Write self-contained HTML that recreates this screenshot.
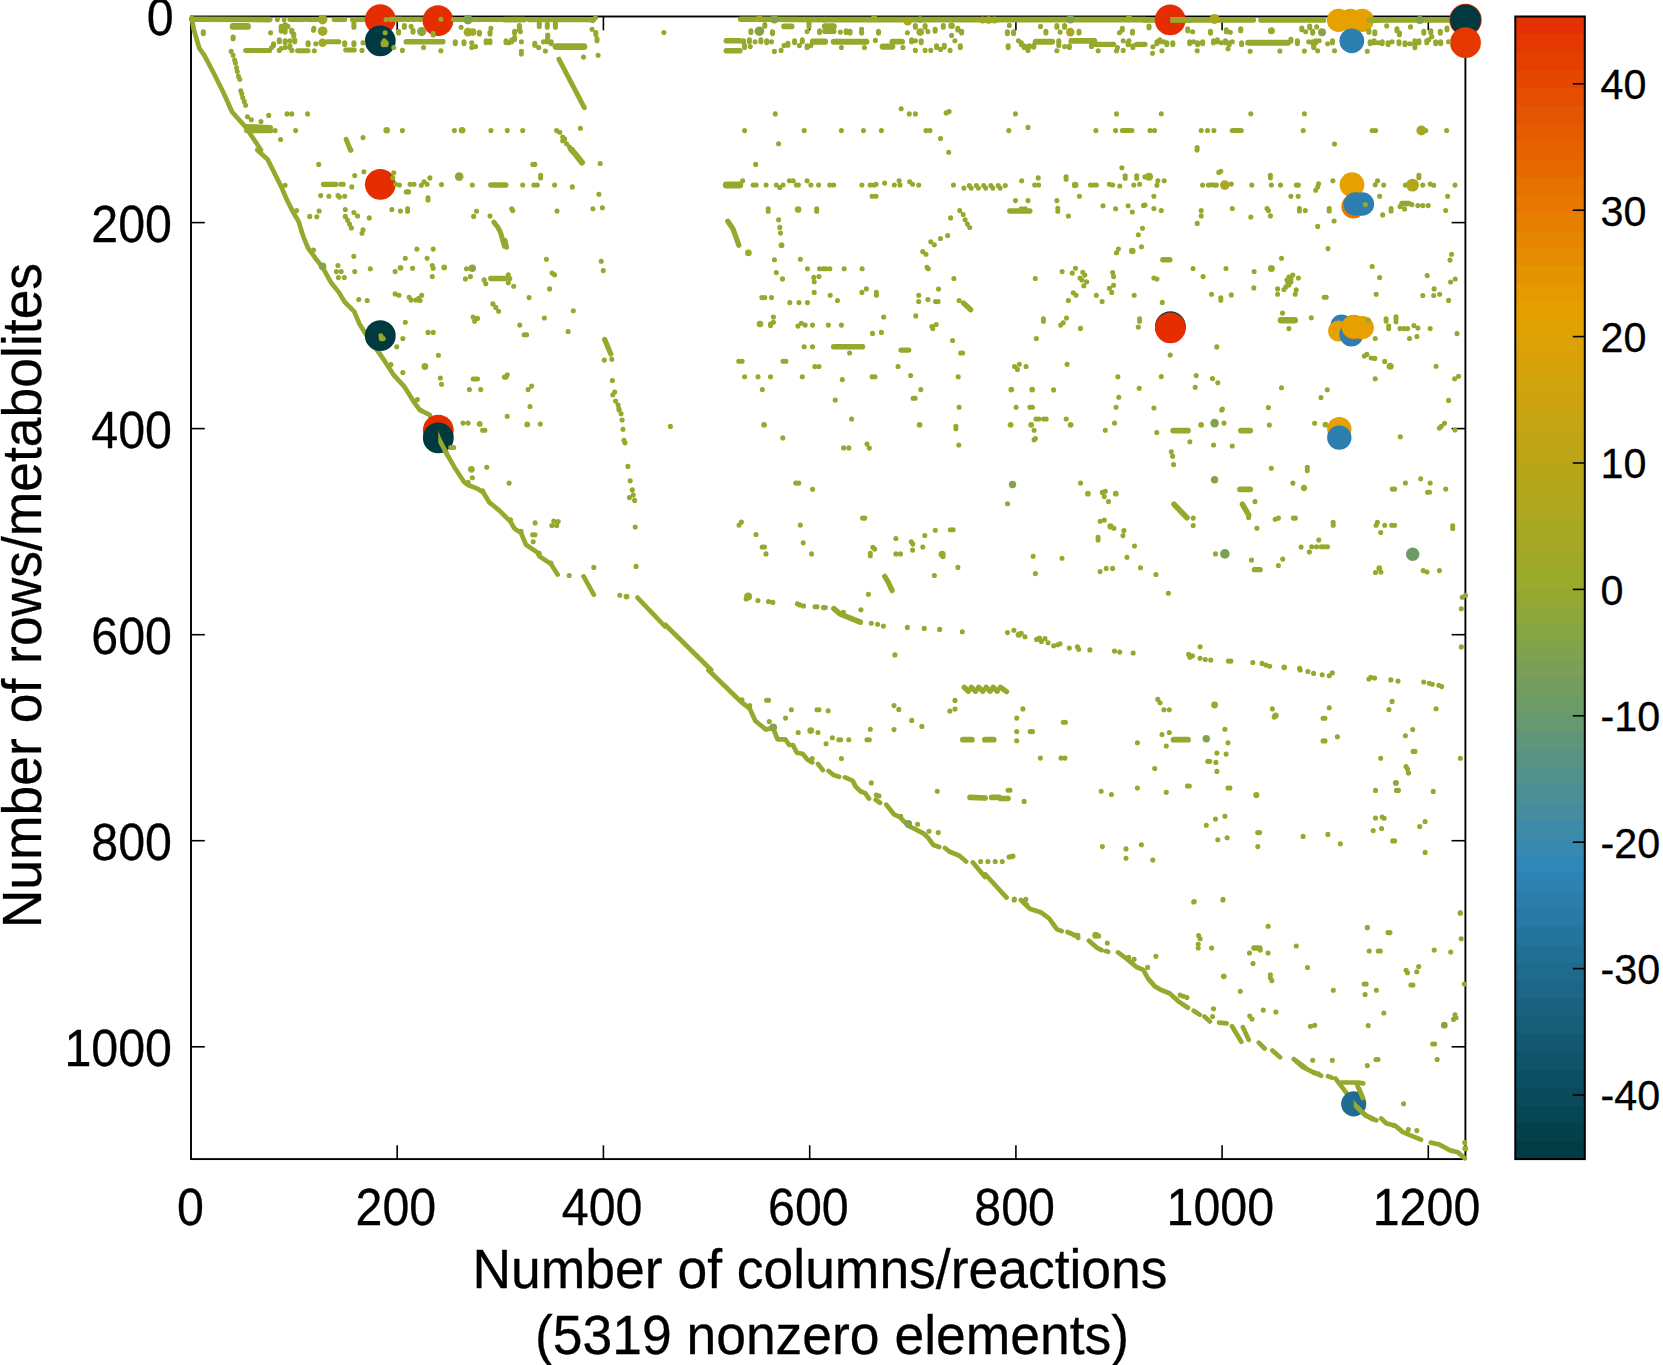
<!DOCTYPE html>
<html><head><meta charset="utf-8"><title>spy plot</title>
<style>html,body{margin:0;padding:0;background:#fff}svg{display:block}text{font-family:"Liberation Sans",Arial,Helvetica,sans-serif;fill:#000;stroke:#000;stroke-width:0.3px}</style></head><body>
<svg width="1663" height="1365" viewBox="0 0 1663 1365">
<rect width="1663" height="1365" fill="#fff"/>
<g shape-rendering="crispEdges">
<rect x="1515.3" y="16.50" width="69.5" height="18.35" fill="#e53100"/>
<rect x="1515.3" y="34.35" width="69.5" height="18.35" fill="#e53800"/>
<rect x="1515.3" y="52.21" width="69.5" height="18.35" fill="#e53f00"/>
<rect x="1515.3" y="70.06" width="69.5" height="18.35" fill="#e54600"/>
<rect x="1515.3" y="87.91" width="69.5" height="18.35" fill="#e54d00"/>
<rect x="1515.3" y="105.77" width="69.5" height="18.35" fill="#e55400"/>
<rect x="1515.3" y="123.62" width="69.5" height="18.35" fill="#e55b00"/>
<rect x="1515.3" y="141.47" width="69.5" height="18.35" fill="#e56200"/>
<rect x="1515.3" y="159.32" width="69.5" height="18.35" fill="#e66900"/>
<rect x="1515.3" y="177.18" width="69.5" height="18.35" fill="#e67000"/>
<rect x="1515.3" y="195.03" width="69.5" height="18.35" fill="#e67700"/>
<rect x="1515.3" y="212.88" width="69.5" height="18.35" fill="#e67e00"/>
<rect x="1515.3" y="230.74" width="69.5" height="18.35" fill="#e68500"/>
<rect x="1515.3" y="248.59" width="69.5" height="18.35" fill="#e68c00"/>
<rect x="1515.3" y="266.44" width="69.5" height="18.35" fill="#e69300"/>
<rect x="1515.3" y="284.30" width="69.5" height="18.35" fill="#e69a00"/>
<rect x="1515.3" y="302.15" width="69.5" height="18.35" fill="#e5a000"/>
<rect x="1515.3" y="320.00" width="69.5" height="18.35" fill="#e0a103"/>
<rect x="1515.3" y="337.86" width="69.5" height="18.35" fill="#dba106"/>
<rect x="1515.3" y="355.71" width="69.5" height="18.35" fill="#d6a209"/>
<rect x="1515.3" y="373.56" width="69.5" height="18.35" fill="#d1a30c"/>
<rect x="1515.3" y="391.42" width="69.5" height="18.35" fill="#cca30e"/>
<rect x="1515.3" y="409.27" width="69.5" height="18.35" fill="#c7a411"/>
<rect x="1515.3" y="427.12" width="69.5" height="18.35" fill="#c2a514"/>
<rect x="1515.3" y="444.97" width="69.5" height="18.35" fill="#bda517"/>
<rect x="1515.3" y="462.83" width="69.5" height="18.35" fill="#b8a61a"/>
<rect x="1515.3" y="480.68" width="69.5" height="18.35" fill="#b3a61d"/>
<rect x="1515.3" y="498.53" width="69.5" height="18.35" fill="#aea71f"/>
<rect x="1515.3" y="516.39" width="69.5" height="18.35" fill="#a9a822"/>
<rect x="1515.3" y="534.24" width="69.5" height="18.35" fill="#a4a825"/>
<rect x="1515.3" y="552.09" width="69.5" height="18.35" fill="#9fa928"/>
<rect x="1515.3" y="569.95" width="69.5" height="18.35" fill="#9aaa2b"/>
<rect x="1515.3" y="587.80" width="69.5" height="18.35" fill="#95a931"/>
<rect x="1515.3" y="605.65" width="69.5" height="18.35" fill="#8ea73a"/>
<rect x="1515.3" y="623.51" width="69.5" height="18.35" fill="#87a443"/>
<rect x="1515.3" y="641.36" width="69.5" height="18.35" fill="#81a24c"/>
<rect x="1515.3" y="659.21" width="69.5" height="18.35" fill="#7aa055"/>
<rect x="1515.3" y="677.07" width="69.5" height="18.35" fill="#739d5e"/>
<rect x="1515.3" y="694.92" width="69.5" height="18.35" fill="#6d9b67"/>
<rect x="1515.3" y="712.77" width="69.5" height="18.35" fill="#669970"/>
<rect x="1515.3" y="730.62" width="69.5" height="18.35" fill="#5f9679"/>
<rect x="1515.3" y="748.48" width="69.5" height="18.35" fill="#599482"/>
<rect x="1515.3" y="766.33" width="69.5" height="18.35" fill="#52928b"/>
<rect x="1515.3" y="784.18" width="69.5" height="18.35" fill="#4c9094"/>
<rect x="1515.3" y="802.04" width="69.5" height="18.35" fill="#458d9d"/>
<rect x="1515.3" y="819.89" width="69.5" height="18.35" fill="#3e8ba7"/>
<rect x="1515.3" y="837.74" width="69.5" height="18.35" fill="#3889b0"/>
<rect x="1515.3" y="855.60" width="69.5" height="18.35" fill="#3186b9"/>
<rect x="1515.3" y="873.45" width="69.5" height="18.35" fill="#2d82b4"/>
<rect x="1515.3" y="891.30" width="69.5" height="18.35" fill="#2b7dac"/>
<rect x="1515.3" y="909.16" width="69.5" height="18.35" fill="#2879a5"/>
<rect x="1515.3" y="927.01" width="69.5" height="18.35" fill="#25749d"/>
<rect x="1515.3" y="944.86" width="69.5" height="18.35" fill="#226f96"/>
<rect x="1515.3" y="962.72" width="69.5" height="18.35" fill="#1f6b8e"/>
<rect x="1515.3" y="980.57" width="69.5" height="18.35" fill="#1c6687"/>
<rect x="1515.3" y="998.42" width="69.5" height="18.35" fill="#19617f"/>
<rect x="1515.3" y="1016.27" width="69.5" height="18.35" fill="#165d78"/>
<rect x="1515.3" y="1034.13" width="69.5" height="18.35" fill="#135870"/>
<rect x="1515.3" y="1051.98" width="69.5" height="18.35" fill="#105469"/>
<rect x="1515.3" y="1069.83" width="69.5" height="18.35" fill="#0d4f62"/>
<rect x="1515.3" y="1087.69" width="69.5" height="18.35" fill="#0a4a5a"/>
<rect x="1515.3" y="1105.54" width="69.5" height="18.35" fill="#074653"/>
<rect x="1515.3" y="1123.39" width="69.5" height="18.35" fill="#04414b"/>
<rect x="1515.3" y="1141.25" width="69.5" height="18.35" fill="#013c44"/>
</g>
<rect x="1515.3" y="16.5" width="69.5" height="1142.6" fill="none" stroke="#000" stroke-width="2"/>
<line x1="1572.8" x2="1584.8" y1="1095.0" y2="1095.0" stroke="#000" stroke-width="1.6"/>
<text transform="translate(1600.5,1110.4) scale(0.96,1)" font-size="43">-40</text>
<line x1="1572.8" x2="1584.8" y1="968.6" y2="968.6" stroke="#000" stroke-width="1.6"/>
<text transform="translate(1600.5,984.0) scale(0.96,1)" font-size="43">-30</text>
<line x1="1572.8" x2="1584.8" y1="842.2" y2="842.2" stroke="#000" stroke-width="1.6"/>
<text transform="translate(1600.5,857.6) scale(0.96,1)" font-size="43">-20</text>
<line x1="1572.8" x2="1584.8" y1="715.8" y2="715.8" stroke="#000" stroke-width="1.6"/>
<text transform="translate(1600.5,731.2) scale(0.96,1)" font-size="43">-10</text>
<line x1="1572.8" x2="1584.8" y1="589.4" y2="589.4" stroke="#000" stroke-width="1.6"/>
<text transform="translate(1600.5,604.8) scale(0.96,1)" font-size="43">0</text>
<line x1="1572.8" x2="1584.8" y1="463.0" y2="463.0" stroke="#000" stroke-width="1.6"/>
<text transform="translate(1600.5,478.4) scale(0.96,1)" font-size="43">10</text>
<line x1="1572.8" x2="1584.8" y1="336.6" y2="336.6" stroke="#000" stroke-width="1.6"/>
<text transform="translate(1600.5,352.0) scale(0.96,1)" font-size="43">20</text>
<line x1="1572.8" x2="1584.8" y1="210.2" y2="210.2" stroke="#000" stroke-width="1.6"/>
<text transform="translate(1600.5,225.6) scale(0.96,1)" font-size="43">30</text>
<line x1="1572.8" x2="1584.8" y1="83.8" y2="83.8" stroke="#000" stroke-width="1.6"/>
<text transform="translate(1600.5,99.2) scale(0.96,1)" font-size="43">40</text>
<rect x="191.0" y="16.5" width="1274.4" height="1142.6" fill="none" stroke="#000" stroke-width="1.9"/>
<text transform="translate(190.5,1224.6) scale(0.948,1)" font-size="51" text-anchor="middle">0</text>
<line x1="397.2" x2="397.2" y1="1159.1" y2="1145.3" stroke="#000" stroke-width="1.6"/>
<line x1="397.2" x2="397.2" y1="16.5" y2="30.3" stroke="#000" stroke-width="1.6"/>
<text transform="translate(395.9,1224.6) scale(0.948,1)" font-size="51" text-anchor="middle">200</text>
<line x1="603.4" x2="603.4" y1="1159.1" y2="1145.3" stroke="#000" stroke-width="1.6"/>
<line x1="603.4" x2="603.4" y1="16.5" y2="30.3" stroke="#000" stroke-width="1.6"/>
<text transform="translate(602.1,1224.6) scale(0.948,1)" font-size="51" text-anchor="middle">400</text>
<line x1="809.7" x2="809.7" y1="1159.1" y2="1145.3" stroke="#000" stroke-width="1.6"/>
<line x1="809.7" x2="809.7" y1="16.5" y2="30.3" stroke="#000" stroke-width="1.6"/>
<text transform="translate(808.4,1224.6) scale(0.948,1)" font-size="51" text-anchor="middle">600</text>
<line x1="1015.9" x2="1015.9" y1="1159.1" y2="1145.3" stroke="#000" stroke-width="1.6"/>
<line x1="1015.9" x2="1015.9" y1="16.5" y2="30.3" stroke="#000" stroke-width="1.6"/>
<text transform="translate(1014.6,1224.6) scale(0.948,1)" font-size="51" text-anchor="middle">800</text>
<line x1="1222.1" x2="1222.1" y1="1159.1" y2="1145.3" stroke="#000" stroke-width="1.6"/>
<line x1="1222.1" x2="1222.1" y1="16.5" y2="30.3" stroke="#000" stroke-width="1.6"/>
<text transform="translate(1220.3,1224.6) scale(0.948,1)" font-size="51" text-anchor="middle">1000</text>
<line x1="1428.3" x2="1428.3" y1="1159.1" y2="1145.3" stroke="#000" stroke-width="1.6"/>
<line x1="1428.3" x2="1428.3" y1="16.5" y2="30.3" stroke="#000" stroke-width="1.6"/>
<text transform="translate(1426.5,1224.6) scale(0.948,1)" font-size="51" text-anchor="middle">1200</text>
<text transform="translate(173.7,35.3) scale(0.948,1)" font-size="51" text-anchor="end">0</text>
<line x1="191.0" x2="204.8" y1="222.6" y2="222.6" stroke="#000" stroke-width="1.6"/>
<line x1="1465.4" x2="1451.6000000000001" y1="222.6" y2="222.6" stroke="#000" stroke-width="1.6"/>
<text transform="translate(172,242.0) scale(0.948,1)" font-size="51" text-anchor="end">200</text>
<line x1="191.0" x2="204.8" y1="428.6" y2="428.6" stroke="#000" stroke-width="1.6"/>
<line x1="1465.4" x2="1451.6000000000001" y1="428.6" y2="428.6" stroke="#000" stroke-width="1.6"/>
<text transform="translate(172,448.0) scale(0.948,1)" font-size="51" text-anchor="end">400</text>
<line x1="191.0" x2="204.8" y1="634.7" y2="634.7" stroke="#000" stroke-width="1.6"/>
<line x1="1465.4" x2="1451.6000000000001" y1="634.7" y2="634.7" stroke="#000" stroke-width="1.6"/>
<text transform="translate(172,654.1) scale(0.948,1)" font-size="51" text-anchor="end">600</text>
<line x1="191.0" x2="204.8" y1="840.7" y2="840.7" stroke="#000" stroke-width="1.6"/>
<line x1="1465.4" x2="1451.6000000000001" y1="840.7" y2="840.7" stroke="#000" stroke-width="1.6"/>
<text transform="translate(172,860.1) scale(0.948,1)" font-size="51" text-anchor="end">800</text>
<line x1="191.0" x2="204.8" y1="1046.8" y2="1046.8" stroke="#000" stroke-width="1.6"/>
<line x1="1465.4" x2="1451.6000000000001" y1="1046.8" y2="1046.8" stroke="#000" stroke-width="1.6"/>
<text transform="translate(172,1066.2) scale(0.948,1)" font-size="51" text-anchor="end">1000</text>
<g id="spy">
<defs><clipPath id="rh"><rect x="380.3" y="0.2" width="21.4" height="38.8"/><rect x="380.3" y="21.4" width="21.4" height="38.8"/><rect x="438" y="1.2" width="21.4" height="38.8"/><rect x="1170.2" y="0.5" width="21.4" height="38.8"/><rect x="1338.5" y="4.7" width="17.6" height="31.2"/><rect x="1350.4" y="4.7" width="17.6" height="31.2"/><rect x="1362.3" y="4.7" width="17.6" height="31.2"/><rect x="1351.8" y="24.4" width="18.4" height="32.8"/><rect x="1465.5" y="-0.3" width="22.2" height="40.4"/><rect x="1465.5" y="0.5" width="21.4" height="38.8"/><rect x="1465.5" y="23.3" width="21.4" height="38.8"/><rect x="380.3" y="164.9" width="21.4" height="38.8"/><rect x="380.3" y="316.3" width="21.4" height="38.8"/><rect x="1170.4" y="307.2" width="21.4" height="38.8"/><rect x="1170.4" y="308.4" width="21.4" height="38.8"/><rect x="1352" y="168.3" width="18.4" height="32.8"/><rect x="1353.4" y="190.6" width="18" height="32"/><rect x="1355.4" y="188.2" width="17.8" height="31.6"/><rect x="1362.3" y="188.2" width="17.8" height="31.6"/><rect x="1341.5" y="310.6" width="17" height="30"/><rect x="1338.5" y="316.5" width="16.5" height="29"/><rect x="1351.4" y="318.6" width="18" height="32"/><rect x="1353.8" y="310.8" width="18.2" height="32.4"/><rect x="1353.4" y="311" width="17.6" height="31.2"/><rect x="1362.3" y="312" width="17.6" height="31.2"/><rect x="438.3" y="410.8" width="21.4" height="38.8"/><rect x="438.3" y="418.5" width="21.4" height="38.8"/><rect x="1339.3" y="412.9" width="18.2" height="32.4"/><rect x="1339.3" y="421.4" width="18.2" height="32.4"/><rect x="1353.7" y="1087.2" width="18.6" height="33.2"/></clipPath></defs>
<g id="lines">
<path d="M191.7 17.7 L193.7 29.2 L199.4 48.5 L204.2 55.2 L213.9 73.5 L223.5 92.7 L232.1 112 L240.8 121.6 L246.6 128.3 L252.3 137 L261 150.1 L257.2 150 L267.7 159.6 L275.4 175 L281.2 186.6 L287 200 L292.8 211.6 L298.5 221.2 L303.3 236.6 L308.1 248.1 L315.8 258.7 L322.6 267.4 L331.2 282.8 L338.9 292.4 L344.7 302 L354.3 311.6 L359.1 323.2 L364.9 332.8 L374.5 346.3 L385.1 361.7 L393.8 375.1 L404.4 386.7 L414 402.1 L419.8 410 L420 410 L429.7 414.8 L438.9 438.9 L447 454.3 L454.7 467.7 L464.3 482.2 L468.1 485 L477.8 488.9 L483.5 492.7 L489.3 502.4 L498.9 510.1 L510.5 521.6 L514.3 528.3 L521.1 533.1 L525.9 544.7 L537.4 552.4 L539.3 556.2 L550.9 563.9 L557.6 574.5 M583.6 576.4 L593.8 594.7 M637.5 597.6 L665 626.5 L665 624.5 L711.2 670 L708.3 670 L742 702.7 L749.7 708.5 L755.4 721 L766 729.6 L772.8 727.7 L777.6 739.3 L785.3 739.3 L789.1 745 L793 745 L796.8 752.7 L802.6 753.7 L807.4 759.5 L812.2 762.4 M818 763.9 L822.8 770.1 M828.6 771 L833.4 774.9 L839.1 776.8 M844.9 777.4 L852.6 780.6 L855.5 786.4 L860.3 791.2 L865.1 793.1 L869 798.5 M875.7 799.9 L880.1 802.8 M886.3 804.7 L894 814.3 L899.8 817.2 L908.4 825.9 L916.1 829.7 L923.8 833.6 L928.6 838.4 L933.4 845.1 L939.2 847 M945 848 L949.8 851.8 L959.4 855.7 L966.1 861.5 M972.9 862.4 L985 876.9 L985 874 L1006.6 897.6 M1020.9 900 L1029.7 908.7 L1041.3 912.6 L1049.1 918.4 L1056.8 929.1 L1061.7 931.1 M1067.5 932 L1076.3 935.9 L1078.2 937.9 M1088.9 940.8 L1096.7 947.6 L1101.5 950.1 M1105.8 951.1 L1108.1 951.8 M1118 952.4 L1124.8 957.3 L1130.6 962.1 L1136.5 967 L1143.3 969.9 L1148.1 978.6 L1154.9 986.4 L1161.7 990.3 L1169.5 993.2 L1179.2 1001.9 L1187.9 1007.8 M1193.7 1010.7 L1199.6 1014.6 M1204.4 1016.5 L1209.9 1021.4 M1219 1022.7 L1226.7 1023.3 M1232 1026.2 L1241.3 1041.7 M1242.9 1027.2 L1248.7 1039.8 M1258.8 1042.7 L1264.6 1048.5 M1272.4 1050.5 L1280.1 1057.3 M1293.7 1059.2 L1305 1067.4 L1293.9 1059.2 L1302.6 1066.9 L1312.3 1071.8 L1321.1 1075.7 M1327.9 1076.2 L1331.8 1077.6 M1335.6 1078.6 L1347.3 1094.1 L1353.7 1103.8 L1365.7 1115.5 L1376.4 1120.3 M1341.5 1082.5 L1351.2 1082.5 L1358 1082.5 L1363.2 1083.4 M1357 1084.4 L1362.8 1098 M1381.2 1118.4 L1386.1 1123.2 L1395.8 1126.1 L1402.6 1131.9 L1409.4 1134.9 L1421 1139.7 M1430.7 1142.6 L1438.5 1144.2 L1450.2 1150.4 L1457.9 1152.3 L1464.7 1158.2" fill="none" stroke="#95a92d" stroke-width="4.7" stroke-linecap="round" stroke-linejoin="round"/>
<path d="M289.9 19.6 L304.3 19.6 M308.1 19.6 L319.7 19.6 M334.1 19.6 L344.7 19.6 M352.4 19.6 L364.9 19.6 M245.6 50.4 L269.7 50.4 M297.6 50.8 L308.1 50.8 M345.7 50 L354.3 50 M327.4 41.7 L338.9 41.7 M245.6 126.4 L270.6 127.4 M246.6 130.8 L270.6 130.8 M346.2 139.3 L350.5 150.1 M390.9 19.2 L423.6 19.2 M453.4 19.6 L505 19.6 M558.9 59.1 L584.3 107.7 M1122.3 130.6 L1131.9 130.6 M493.8 222.2 L497.7 227 L500.6 232.7 L502.5 239.5 L504.4 246.2 M473.1 379 L477.5 379 M505 240.4 L506.5 247.2" fill="none" stroke="#95a92d" stroke-width="5.0" stroke-linecap="round" stroke-linejoin="round"/>
<path d="M1232.3 130.5 L1241.2 130.5" fill="none" stroke="#95a92d" stroke-width="5.2" stroke-linecap="round" stroke-linejoin="round"/>
<path d="M529.1 19.6 L593.5 19.6 M1094.4 44.3 L1113.6 44.3 M1136.7 44.3 L1145 44.3 M323.5 184.3 L336 184.3 M727.8 221.2 L733 228.9 L738.8 245.2 M604.7 339.5 L610.8 354 M1009.7 211 L1029.9 211 M963.5 303 L970.7 309.7 M901 350.1 L908.7 350.1 M884.7 576.4 L888.2 582.2 L892.1 590.5 M1254.4 569.7 L1260.2 569.7 M964.2 687.3 L968.4 691.2 M971.3 687.3 L975.6 691.2 M978.6 687.3 L982.9 691.2 M986 687.3 L990.2 691.2 M993.1 687.3 L997.3 691.2 M1000.4 687.3 L1006.6 691.6 M1009.1 857 L1012.9 856.3" fill="none" stroke="#95a92d" stroke-width="5.3" stroke-linecap="round" stroke-linejoin="round"/>
<path d="M1253.9 948 L1259.8 948" fill="none" stroke="#95a92d" stroke-width="5.4" stroke-linecap="round" stroke-linejoin="round"/>
<path d="M1402 203.6 L1408.9 203.6 M1162.9 259.7 L1169.8 259.7" fill="none" stroke="#95a92d" stroke-width="5.5" stroke-linecap="round" stroke-linejoin="round"/>
<path d="M191.7 19.2 L269.7 19.6 M406.3 41.7 L442.8 41.7 M505 19.6 L524.2 19.6 M740.7 19.2 L825 19.6 M784 26.4 L791.7 26.4 M726.3 40.8 L739.8 40.8 M726.3 50.8 L739.8 50.8 M825 31.2 L833.7 31.2 M490.9 185 L505 185 M490.9 278.5 L505 278.5 M833.7 346.8 L862.5 346.8 M833.9 608.6 L840.1 614 L860.3 622.2 M1174 504.3 L1187 517.8 M1242.5 504.3 L1248.6 514.9 M970 797.4 L985 798 M991.7 797.4 L999.4 797.4 L1000.4 798.5 L1008.1 798.5" fill="none" stroke="#95a92d" stroke-width="5.6" stroke-linecap="round" stroke-linejoin="round"/>
<path d="M1145 19.9 L1253.2 19.9 M1261.1 19.9 L1323.6 19.9 M1369.3 19.9 L1454.6 19.9" fill="none" stroke="#95a92d" stroke-width="5.7" stroke-linecap="round" stroke-linejoin="round"/>
<path d="M825 19.6 L1145 19.6 M892.3 41.7 L902 41.7 M1071.3 40.8 L1094.4 40.8 M1173.2 430.6 L1188 430.6 M1240.9 430.6 L1250.2 430.6 M1240 489.3 L1250.2 489.3 M962.9 739.7 L971.9 739.7 M985 739.7 L993.7 739.7 M1173.6 739.7 L1188 739.7" fill="none" stroke="#95a92d" stroke-width="5.8" stroke-linecap="round" stroke-linejoin="round"/>
<path d="M833.7 41.7 L866.4 41.7 M1035.7 41.7 L1052.1 41.7 M1248.2 42.7 L1287.9 42.7 M571.4 150 L575.2 153.8 L578.1 157.7 L582 162.5" fill="none" stroke="#95a92d" stroke-width="6.0" stroke-linecap="round" stroke-linejoin="round"/>
<path d="M812.9 41.7 L825 41.7 M825 26.4 L833.7 26.4 M882.7 46.6 L892.3 46.6" fill="none" stroke="#95a92d" stroke-width="6.2" stroke-linecap="round" stroke-linejoin="round"/>
<path d="M1280.9 320.3 L1294.8 320.3" fill="none" stroke="#95a92d" stroke-width="6.4" stroke-linecap="round" stroke-linejoin="round"/>
<path d="M233.1 26.4 L247.5 26.4 M556 46.6 L583.9 46.6 M726.3 185 L739.8 185" fill="none" stroke="#95a92d" stroke-width="6.9" stroke-linecap="round" stroke-linejoin="round"/>
</g>
<circle cx="380.3" cy="19.6" r="15.4" fill="#e52d00"/>
<circle cx="380.3" cy="40.8" r="15.4" fill="#003a40"/>
<circle cx="438" cy="20.6" r="15.4" fill="#e52d00"/>
<circle cx="1170.2" cy="19.9" r="15.4" fill="#e52d00"/>
<circle cx="1338.5" cy="20.3" r="11.6" fill="#e6a000"/>
<circle cx="1350.4" cy="20.3" r="11.6" fill="#e6a000"/>
<circle cx="1362.3" cy="20.3" r="11.6" fill="#e6a000"/>
<circle cx="1351.8" cy="40.8" r="12.4" fill="#2c7faf"/>
<circle cx="1465.5" cy="19.9" r="16.2" fill="#e52d00"/>
<circle cx="1465.5" cy="19.9" r="15.4" fill="#003a40"/>
<circle cx="1465.5" cy="42.7" r="15.4" fill="#e53700"/>
<circle cx="380.3" cy="184.3" r="15.4" fill="#e52d00"/>
<circle cx="380.3" cy="335.7" r="15.4" fill="#003a40"/>
<circle cx="1170.4" cy="326.6" r="15.4" fill="#003a40"/>
<circle cx="1170.4" cy="327.8" r="15.4" fill="#e52d00"/>
<circle cx="1352" cy="184.7" r="12.4" fill="#e6a000"/>
<circle cx="1353.4" cy="206.6" r="12.0" fill="#e67800"/>
<circle cx="1355.4" cy="204" r="11.8" fill="#2c7faf"/>
<circle cx="1362.3" cy="204" r="11.8" fill="#2c7faf"/>
<circle cx="1341.5" cy="325.6" r="11.0" fill="#2c7faf"/>
<circle cx="1338.5" cy="331" r="10.5" fill="#e6a000"/>
<circle cx="1351.4" cy="334.6" r="12" fill="#2c7faf"/>
<circle cx="1353.8" cy="327" r="12.2" fill="#e68200"/>
<circle cx="1353.4" cy="326.6" r="11.6" fill="#e6a000"/>
<circle cx="1362.3" cy="327.6" r="11.6" fill="#e6a000"/>
<circle cx="438.3" cy="430.2" r="15.4" fill="#e52d00"/>
<circle cx="438.3" cy="437.9" r="15.4" fill="#003a40"/>
<circle cx="1339.3" cy="429.1" r="12.2" fill="#e6a000"/>
<circle cx="1339.3" cy="437.6" r="12.2" fill="#2c7faf"/>
<circle cx="1353.7" cy="1103.8" r="12.6" fill="#1f6c90"/>
<use href="#lines" clip-path="url(#rh)"/>
<path d="M203.3 31.8v1.8M233.1 37v1.8M231.2 51.4h0M233.1 55.2h0M234.6 60h0M235.4 62.9h0M236.6 67.7h0M237.3 71.6h0M238.5 76.4h0M239.8 79.3h0M240.8 90.8h0M241.8 93.7h0M242.7 97.6h0M244.3 101.4h0M245.6 105.2h0M247.5 116.8h0M251.4 119.7h0M261 121.6h0M268.7 115.4h0M287 113.9h0M291.8 113.9h0M307.6 113.9h0M275.1 130.6h0M295.6 130.6h0M402.4 130.6h0M454.4 130.6h0M490.9 130.6h0M280.6 139.5h0M363 137.6h0M279.3 50.4h0M291.8 50.4h0M314.3 50.8h0M362 50.4h0M393.8 47.5h0M402.4 50.4h0M423.6 47.5h0M440.9 50.8h0M471.7 47.5h0M475.6 46.6h0M279.3 39.9v1.8M285.1 40.8v1.8M289.9 40.8h0M294.7 39.9v1.8M308.1 42.8v1.8M315.8 43.7h0M344.7 42.8v1.8M353.9 42.8v1.8M363 42.7h0M455.3 41.8v1.8M464 41.8v1.8M471.7 42.7h0M486.1 40.8v1.8M490 40.8v1.8M270.6 32.7h0M281.2 29.3v1.8M285.1 30.3v1.8M287.9 26.4h0M291.8 30.3v1.8M293.7 34.1v1.8M313.5 30.2h0M353.9 25.5v1.8M353.9 22.6v1.8M385.1 32.7h0M398.6 31.2v1.8M404.4 25.5v1.8M411.1 26.4h0M413 30.3v1.8M433.2 33.2v1.8M461.1 27.3h0M479.4 32.2v1.8M490 32.2v1.8M490.9 28.3h0M285.1 24.5v1.8M281.2 26.4v1.8M313.9 28.3h0M289.9 45.7v1.8M285.1 47.5h0M281.2 48.5h0M273.5 43.7v1.8M271.6 47.5h0M384.2 40.8h0M386.1 42.8v1.8M383.2 42.8v1.8M440.9 19.2h0M386.1 19.6h0M277.4 19.6h0M284.1 19.6h0M292.8 19.6h0M296.6 19.6h0M302.4 19.6h0M308.1 19.6h0M312 19.6h0M315.8 19.6h0M335.1 19.6h0M338.9 19.6h0M343.7 19.6h0M354.3 19.6h0M358.2 19.6h0M362 19.6h0M390.9 19.6h0M396.7 19.6h0M402.4 19.6h0M408.2 19.6h0M414 19.6h0M419.8 19.6h0M454.4 19.6h0M458.2 19.6h0M462.1 19.6h0M473.6 19.6h0M479.4 19.6h0M485.2 19.6h0M490.9 19.6h0M496.7 19.6h0M502.5 19.6h0M519.4 25.5v1.8M519.4 28.3v1.8M539.3 26.4h0M539.3 23.5v1.8M547.3 25.5v1.8M547.3 24.4h0" fill="none" stroke="#95a92d" stroke-width="5.1" stroke-linecap="round"/>
<path d="M555.4 25.5v1.8M555.4 23.5v1.8M592 29.2h0M595.8 32.6v1.8M764.8 24.5v1.8M809 26.4h0M809 22.6v1.8M514.6 31.2v1.8M520.4 31.6h0M547.7 35.1v1.8M597 38.9v1.8M663.9 32.5h0M750.9 30.7v1.8M772.5 31.8v1.8M807.1 31.6h0M819.6 30.7v1.8M506 40.8v1.8M508.8 42.7h0M511.7 39.9v1.8M514.6 37.6v1.8M521.4 41.7h0M534.8 43.4v1.8M538.7 47.5h0M543.5 41.7h0M547.3 39.9v1.8M551.2 41.8v1.8M521.4 51.4h0M521.4 53.9h0M545.4 51h0M583.5 57.1h0M598.1 55.2h0M744.6 45.7v1.8M750.3 46.6h0M743.6 40.8v1.8M749.4 39.9v1.8M755.1 41.7h0M760.9 39.9v1.8M766.7 40.8v1.8M771.5 41.7h0M774.4 51.4h0M781.1 50.4h0M784 45.6h0M787.9 43.4v1.8M794.6 40.8v1.8M799.4 45.6h0M802.3 39.9v1.8M807.1 45.7v1.8M810.9 45.6h0M775.3 113.9h0M744.6 130.6h0M804.2 130.6h0M778.6 143.7h0M507.3 130.6h0M522.7 130.6h0M580.4 128.3h0M556.6 130.6h0M559.8 132.2h0M562.7 137h0M564.6 138.9h0M562.7 140.8h0M566.6 143.7h0M569.5 147h0M572.3 149.5h0M595.4 17.7h0M592.6 20.6h0M840.4 32.1h0M846.2 30.7v1.8M850 31.2v1.8M861.6 29.2h0M861.6 31.2v1.8M878.5 31.2v1.8M907.4 32.7h0M915.4 25.5v1.8M925.1 25.5v1.8M927.9 31.6h0M935.1 29.3v1.8M943.3 25.5v1.8M951.6 35.4h0M957.8 28.3v1.8M961.6 31.2v1.8M1009.3 25.4h0M1007.4 31.8v1.8M1013.6 31.8v1.8M1040.5 26.4h0M1045.9 31.2v1.8M1056.9 25.5v1.8M1060.1 32.1h0M1064.6 25.5v1.8M1079 31.2v1.8M1119.4 32.7h0M1122.3 28.3v1.8M1132.5 31.2v1.8M825 41.7h0M841.4 47.5h0M864.4 47.5h0M875.4 40.4h0M902.9 47.5h0M911.6 39.9v1.8M915.4 40.8h0M921.2 40.8v1.8M915.4 50.4h0M925.1 50.4h0M930.8 50.4h0M936.6 45.7v1.8M940.5 49.4h0M944.3 45.3v1.8M950.1 50.4h0M954.9 40.8h0M960.3 45.7v1.8M1008.2 45.7v1.8M1018.4 40.8h0M1021.3 42.8v1.8M1024.2 45.7v1.8M1028 50.4h0M1029 45.7v1.8M1033.8 45.3v1.8M1056.9 50.8h0M1058.8 40.8v1.8M1058.8 43.7v1.8M1064.6 46.6h0" fill="none" stroke="#95a92d" stroke-width="5.1" stroke-linecap="round"/>
<path d="M1069.4 45.7v1.8M1091.5 44.7v1.8M1098.2 50.8h0M1117.5 47.5h0M1116.5 50.8h0M1123.2 40.8h0M1128.1 42.8v1.8M1132.9 45.7v1.8M1129 40.8h0M1123.2 50.4h0M901.2 108.7h0M909.3 113.9h0M915.4 113.9h0M946.2 112.9h0M949.1 111.6h0M1015.5 113.9h0M1116.5 113.9h0M841.4 130.6h0M863.5 130.6h0M881.4 130.6h0M926 130.6h0M929.9 130.6h0M940.5 138.5h0M1008.8 130.6h0M1028 127.4h0M1095.9 130.6h0M1115.6 130.6h0M1149 26v1.8M1187.7 28.9v1.8M1192.6 31.8h0M1210.5 31.3v1.8M1226.4 29.9v1.8M1230.3 32.2h0M1240.7 28.9v1.8M1301.8 28v1.8M1305.7 31.8h0M1309.7 26v1.8M1312.7 31.3v1.8M1316.7 26.9h0M1368.9 30.5v1.8M1374.8 31.9v1.8M1386.7 25.9h0M1397 28.9v1.8M1399.4 32.9v1.8M1410.5 26.9h0M1423.8 31.3v1.8M1430.8 30.9v1.8M1431.8 36.8h0M1440.3 31.3v1.8M1447 28v1.8M1152.9 46.7h0M1156.9 41.8v1.8M1159.9 39.9v1.8M1163.9 41.8h0M1166.8 42.8v1.8M1172.8 42.8v1.8M1161.9 50.7h0M1152.5 53.3h0M1189.7 41.8v1.8M1193.6 41.8h0M1197.6 42.8v1.8M1202.6 41.8v1.8M1197.2 50.7h0M1213.5 40.9v1.8M1217.4 39.9v1.8M1221.4 42.7h0M1225.4 40.9v1.8M1229.3 42.8v1.8M1232.3 41.8h0M1228 48.7h0M1241.6 42.8v1.8M1250.2 51.3h0M1290.9 39.3v1.8M1297.4 41.8v1.8M1297.4 40.8h0M1279.9 51.1h0M1304.4 51.1h0M1308.7 41.8h0M1312.7 41.8v1.8M1315.7 40.9v1.8M1319.2 40.8h0M1317.7 50.7h0M1313.7 45.8v1.8M1327.6 43.7h0M1332.5 40.9v1.8M1334.5 50.7h0M1367.3 51.3h0M1370.2 41.8v1.8M1374.2 40.9v1.8M1378.2 42.7h0M1382.2 41.8v1.8M1388.1 42.8v1.8M1392.1 41.8h0M1399 41.8v1.8M1405 42.8v1.8M1409.9 43.7h0M1414.9 42.8v1.8M1414.9 45.8v1.8M1414.9 40.8h0M1418.9 40.9v1.8M1426.8 40.9v1.8M1428.8 39.8h0M1435.7 41.8v1.8M1440.7 41.8v1.8M1448.6 41.8h0M1161.3 113.8h0M1250.8 113.8h0M1304.4 113.8h0M1150 130.5h0M1154.5 130.5h0M1201.2 130.5h0M1207.5 130.5h0M1213.9 130.5h0M1303.2 130.5h0M1372.2 130.5h0M1375.6 130.5h0M1425.8 130.5h0M1446.6 130.5h0M1197.2 147.5h0M1334.5 144h0" fill="none" stroke="#95a92d" stroke-width="5.1" stroke-linecap="round"/>
<path d="M285.1 185.2h0M296.6 210.6h0M313.5 250.1h0M390.9 364.5h0M417.4 399.6h0M350.9 150h0M318.7 164.4h0M363.9 171.7h0M354.7 175.6h0M393.8 172.7h0M392.8 177.9h0M340.9 184.3h0M343.2 184.3h0M351.8 186.9h0M395.7 184.3h0M399.5 185h0M410.1 184.3h0M414 184.3h0M406.3 191.9h0M408.6 191.9h0M421.3 185.2h0M424 181.7h0M427.1 184.3h0M429.9 177.9h0M441.5 184.6h0M472.3 185h0M428 197.7h0M428 200h0M320.7 195.6h0M328.9 196.2h0M338 195.6h0M339.5 197.1h0M344.7 196.2h0M345.3 209.6h0M319.1 211h0M309.7 216.4h0M316.8 216.8h0M353.9 212.5h0M357.6 216h0M369.3 217.9h0M391.9 209.6h0M400.5 211h0M407.6 208.7h0M407.6 211.2h0M476.5 211.2h0M473.6 216.4h0M490 216h0M345.3 216.4h0M347.6 220.2h0M349.5 224.1h0M351.4 227.9h0M363 229.9h0M362 233.3h0M416.9 249.1h0M433.2 249.1h0M353.8 256.2h0M405.3 258.3h0M427.1 258.3h0M338 265.5h0M336.4 271.6h0M341.2 271.6h0M338.4 277.6h0M344.3 277.6h0M354.7 271.6h0M370.3 268.7h0M395.1 271.6h0M412.6 268.3h0M432.3 265.5h0M433.2 268.3h0M432.3 276.6h0M466.5 268.7h0M470.4 276.6h0M465.4 278.9h0M484.2 279.9h0M485.8 283.7h0M395.1 293.9h0M399 295.3h0M358.8 299.5h0M367.2 300.5h0M409.2 297.2h0M411.1 300.1h0M415.9 300.1h0M418.8 298.2h0M421.7 295.3h0M420.1 300.5h0M492.9 303.9h0M495.8 307.4h0M498.6 311.2h0M473.1 317h0M477.5 318.4h0M474.6 321.3h0M405.3 322.2h0M428 332.4h0M433.2 332.4h0M402.8 338.6h0M396.7 346.7h0M380.9 335.7h0M383.2 338.6h0M381.3 338.6h0M438.4 355.3h0M402.8 372.6h0M440.3 378h0M441.5 384.2h0M469.4 389.6h0M480.7 389.6h0M504.4 377.1h0M532.9 164.4h0M534.8 164.4h0M600.2 163.5h0M755.7 164.4h0M540.6 175.4h0M540.6 177.9h0M506 185h0M522.7 185h0M533.9 185h0M537.3 185h0M554.6 185h0M572.3 186.9h0M598.9 194.3h0M742.6 180.8h0" fill="none" stroke="#95a92d" stroke-width="5.1" stroke-linecap="round"/>
<path d="M753.2 185h0M756.1 185h0M766.1 185h0M776.3 185h0M779.8 187.5h0M783 185h0M789.4 180.8h0M793.2 180.8h0M796.5 185h0M798.4 185h0M807.1 180.8h0M810.9 185h0M818.6 185h0M511.7 208.7h0M512.7 210.6h0M557 211h0M592.9 208.7h0M602.4 207.7h0M768.2 208.7h0M768.2 211.2h0M816.7 208.7h0M816.7 211.2h0M778.6 219.8h0M779.8 227.4h0M780.5 233.1h0M774.4 259.7h0M800.4 259.3h0M546.4 259.3h0M601.2 261.2h0M603.3 270.6h0M552.1 273.1h0M554.6 274.7h0M508.3 274.7h0M509.8 278.5h0M508.3 282.8h0M513.7 286.2h0M549.6 288.9h0M529.1 297.6h0M573.3 310.7h0M544.4 318h0M519.8 325.1h0M524.2 334.7h0M526.6 334.7h0M568.1 331.5h0M807.5 268.7h0M819.6 268.7h0M823.5 268.7h0M776.3 272.6h0M782.5 278.9h0M813.8 277.4h0M819 276.6h0M814.2 281.8h0M814.2 292.4h0M761.9 297.6h0M764.8 297.6h0M771.5 297.6h0M789.8 302.6h0M799 302.6h0M807.5 302.6h0M773.4 317h0M770.5 324.1h0M773.4 322.2h0M770.5 325.5h0M797.9 326.1h0M801.3 323.2h0M805.2 325.1h0M812.5 325.1h0M804.2 346.8h0M812.5 346.8h0M738.8 361.3h0M742.1 361.3h0M783 361.3h0M785.9 361.3h0M814.8 366.5h0M819 366.5h0M744.6 376.7h0M758 376.7h0M770.5 376.7h0M802.3 376.7h0M762.3 389.6h0M604.3 360.1h0M611.8 359.2h0M612.4 380.5h0M614.7 392.1h0M612.8 394.8h0M615.6 401.1h0M618.1 405h0M618.9 408.8h0M507.3 374.7h0M506 377.1h0M531.6 386.1h0M528.1 389.6h0M530 406.5h0M948.7 152.3h0M829.8 185h0M833.7 185h0M861.9 185h0M870.2 185h0M874.1 185h0M876 184.3h0M884.6 183.1h0M894.3 185h0M900 185h0M899.1 180.8h0M909.7 181.7h0M912.6 184.3h0M918.7 185h0M953.5 185h0M963.9 188.1h0M969.3 185.6h0M971.2 188.1h0M976.4 185.6h0M978.4 188.1h0M983.7 185.6h0M985.7 188.1h0M990.9 185.6h0M992.8 188.1h0M998.2 185.6h0M1000.1 188.1h0M1005.3 185.6h0" fill="none" stroke="#95a92d" stroke-width="5.1" stroke-linecap="round"/>
<path d="M1021.7 180.8h0M1038.2 177.9h0M1034.7 185h0M1038.6 185h0M1066.1 176.9h0M1066.1 179.2h0M1090.5 185h0M1093.4 185h0M1096.3 185h0M1109.4 184.3h0M1112.7 185h0M1119.8 186h0M1133.8 185h0M1139.6 184.3h0M1121.9 167.7h0M1125.2 175.8h0M1125.2 178.3h0M1136.7 175.8h0M1136.7 178.3h0M1145 176.9h0M872.1 196.2h0M876 196.2h0M1015.5 200.6h0M1028 200.6h0M1056.9 200.6h0M1079.4 196.2h0M1021.3 208.7h0M1025.1 208.7h0M1057.8 208.3h0M1057.8 211.2h0M1068.4 216h0M1103 205.8h0M1115.6 208.7h0M1128.1 205.8h0M1132.3 212h0M1143.5 205.4h0M959.7 210.6h0M963.2 214.5h0M965.1 219.7h0M967.4 224.1h0M969.7 227.5h0M950.6 217.9h0M947.6 235.6h0M940.5 238.5h0M930.8 241.8h0M934.3 244.7h0M922.7 251.6h0M926 254.3h0M927 267.4h0M928.3 268.7h0M1142.5 228.3h0M1138.3 234.7h0M1141.5 246.8h0M1118.4 249.1h0M1116.5 252.9h0M826 268.7h0M829.8 268.7h0M844.2 268.7h0M862.1 268.7h0M953.9 278.5h0M1035.3 278.5h0M1062.1 271.6h0M1072.3 273.1h0M1075.5 268.3h0M1082.8 272.2h0M1084.8 275.1h0M1080 278h0M1081.9 279.9h0M1086.7 281.8h0M1083.8 285.7h0M1112.7 272.6h0M1113.6 276.6h0M1113.6 285.3h0M1109.4 288.2h0M1111.7 292.4h0M830.2 295.3h0M837.5 300.5h0M861.9 292.4h0M866.4 288.9h0M876.4 292.4h0M876.4 295.3h0M918.7 295.3h0M918.7 301.6h0M927.9 299.5h0M935.6 301.6h0M938.1 301.6h0M938.5 289.1h0M959.1 300.5h0M1073.2 292.8h0M1076.1 295.3h0M1068.4 300.5h0M1096.3 295.3h0M1102.1 301.6h0M1134.2 295.3h0M883.7 317h0M915.8 315.9h0M828.3 325.1h0M841.4 325.1h0M872.5 333.4h0M881.4 332.4h0M936.2 324.5h0M931.8 326.6h0M932.8 328.6h0M1043.4 318.8h0M1043.4 321.3h0M1066.5 318h0M1063.2 322.8h0M1060.7 325.1h0M1080.5 328.4h0M1139.6 318.8h0M1139.6 321.3h0M1138.3 327h0M952.6 340.5h0M1036.3 338.6h0M849.6 353h0M960.7 353h0M962.6 353h0M898.1 366.5h0M1014.5 366.5h0M1019.3 364.2h0" fill="none" stroke="#95a92d" stroke-width="5.1" stroke-linecap="round"/>
<path d="M1017.4 369.4h0M1026.1 366.5h0M1067.1 364.2h0M842.3 379.6h0M872.1 376.7h0M875 376.7h0M910.6 375.5h0M958.2 376.7h0M1117.9 376.7h0M920.8 389.6h0M913.1 398.2h0M915.1 398.2h0M1053.6 389.9h0M1139.2 388.2h0M1118.8 397.3h0M835.2 400.1h0M959.1 407.3h0M1016.1 407.3h0M1029.9 407.3h0M1032.4 407.3h0M1116.1 407.3h0M1197 150h0M1218.8 172.4h0M1220.8 171.2h0M1270.4 175.2h0M1270.4 177.8h0M1332.9 180.8h0M1418.9 175.2h0M1418.9 177.8h0M1157.9 180.8h0M1164.2 180.8h0M1156.9 185.3h0M1202.6 185.1h0M1208.5 185.1h0M1211.5 184.7h0M1214.5 185.1h0M1216.4 185.1h0M1231.3 184.1h0M1251.8 185.1h0M1271.4 185.1h0M1280.5 185.1h0M1296.4 185.1h0M1298.4 185.1h0M1318.6 183.7h0M1317.7 186.7h0M1315.7 190.3h0M1375.2 184.7h0M1377.6 180.8h0M1383.7 185.1h0M1405.4 185.1h0M1422.8 185.1h0M1430.2 184.1h0M1433.7 185.3h0M1455 185.1h0M1153.9 196.2h0M1290.9 196.2h0M1298.2 196.2h0M1379.6 196.2h0M1447.6 196.2h0M1145 205h0M1153.9 208.5h0M1161.3 210.5h0M1201.2 210.5h0M1201.2 215.9h0M1232.3 208.5h0M1267 208.5h0M1268.4 210.5h0M1270.4 215.9h0M1250.8 217.1h0M1299.4 208.5h0M1299.4 210.9h0M1305.3 210.5h0M1329.2 208.5h0M1329.2 210.9h0M1382.7 214.9h0M1391.1 208.5h0M1391.1 210.9h0M1400 206.6h0M1411.9 204.6h0M1404.6 208.9h0M1417.9 205.6h0M1422.8 205.6h0M1428.2 205.6h0M1445.7 210.5h0M1197.2 223.4h0M1317.7 226.4h0M1334.1 221h0M1365.3 204.6h0M1328 248.6h0M1281.5 258.2h0M1451.6 254.2h0M1450 260.1h0M1193 268.5h0M1226 268.5h0M1254.1 271.5h0M1372.2 266.5h0M1153.9 278h0M1156.9 279h0M1203.1 276.6h0M1379.6 277.6h0M1427.2 275.6h0M1455.2 279h0M1450.6 282h0M1292.8 275h0M1288.9 277h0M1286.9 280h0M1290.9 282h0M1288.9 284.9h0M1285.9 286.9h0M1298.4 278h0M1283.9 289.5h0M1277.6 288.9h0M1277.6 294.3h0M1296.2 289.9h0M1295.2 294.3h0M1290.9 279h0M1287.9 283h0M1253.8 287.9h0M1211.5 294.3h0M1231.3 294.9h0" fill="none" stroke="#95a92d" stroke-width="5.1" stroke-linecap="round"/>
<path d="M1220.8 297.8h0M1220.8 300.2h0M1162.3 302.4h0M1324.2 297.3h0M1326.2 297.3h0M1376.2 294.3h0M1422.8 295.5h0M1433.7 295.5h0M1434.1 288.9h0M1439.7 294.3h0M1448.6 300.4h0M1282.5 313.1h0M1288.9 328.6h0M1311.3 317.7h0M1368.3 320.1h0M1386.1 318.7h0M1386.1 321.1h0M1396 316.7h0M1396 319.1h0M1396 321.7h0M1388.7 326h0M1388.7 328.6h0M1400 328.6h0M1404 328.6h0M1407.6 328.6h0M1413.9 325.6h0M1417.9 328h0M1430.2 328.6h0M1416.9 336.5h0M1409.5 338.5h0M1375.2 338.5h0M1457 333.6h0M1216.8 346.9h0M1170.2 355h0M1364.3 356h0M1366.9 354.4h0M1371.2 358h0M1374.8 358.4h0M1384.7 361.4h0M1436.1 366.3h0M1161.3 376.6h0M1196.2 375.6h0M1212.5 378.6h0M1217.8 382.8h0M1195.2 387.2h0M1281.5 387.7h0M1375.2 378.8h0M1458.6 376.2h0M1454.6 378.8h0M1327.2 389.7h0M1321 397.5h0M1448.6 400.4h0M1153.9 408h0M1222.4 409h0M1268.4 407.6h0M450.8 447.5h0M453.7 447.5h0M463 423.1h0M468.1 423.1h0M482.6 430.2h0M484.9 430.2h0M507.2 416.2h0M540.3 424h0M486.8 467.3h0M472.4 477.7h0M509.1 483.1h0M535.1 522.9h0M553.8 521h0M558.2 521.6h0M551.9 525.5h0M556.7 525.5h0M532.6 534.7h0M534.9 534.7h0M533.2 541.8h0M593.8 567.4h0M636.1 566.4h0M635.2 527h0M569.2 575.5h0M619.8 595.3h0M619.2 410h0M621.1 413.8h0M622.1 420h0M623 429.2h0M624 440.4h0M625 442.7h0M627.9 466.4h0M630.2 480.8h0M632.3 489.9h0M629.4 497.6h0M633.2 495h0M634.6 500.4h0M422 411h0M468.1 482.2h0M482.6 490.8h0M510.5 519.7h0M521.1 531.2h0M539.3 553.4h0M550.9 563h0M670.4 426.4h0M782.8 437.9h0M851.6 419h0M955.9 426.2h0M955.9 428.7h0M958.8 445h0M843.6 447.9h0M848.8 447.9h0M867 444.1h0M869.3 448.1h0M795.8 483.1h0M798.7 483.1h0M812.6 489.3h0M862.6 518.1h0M864.7 518.1h0M741.4 522h0M739.1 525.1h0M800.3 525.1h0M756 534.5h0M762.2 547h0M764.5 547h0M766 553.9h0" fill="none" stroke="#95a92d" stroke-width="5.1" stroke-linecap="round"/>
<path d="M803.2 542.8h0M811.6 553.9h0M872.8 547.2h0M874.7 549.1h0M870.3 553.4h0M870.3 555.7h0M895.9 538.5h0M895.9 553.9h0M900.5 553.9h0M911.3 541.8h0M912.8 544.1h0M912.6 550.1h0M924.8 535.5h0M922.8 547h0M935.3 530.3h0M950.4 529.7h0M953.1 529.7h0M943 556.6h0M957.9 567.4h0M934.4 575.5h0M868.4 594.3h0M860.9 609.7h0M746.2 599h0M757.9 600.5h0M768.5 601.5h0M772.8 602.4h0M797.4 603.8h0M799.7 604.9h0M803.5 605.9h0M815.1 606.7h0M817 606.7h0M823.4 607.6h0M825.3 607.6h0M843.4 612.4h0M871.3 623.2h0M877.6 624.2h0M883.4 626.1h0M907.4 627.4h0M924.2 628.4h0M939.6 629.4h0M962.3 631.7h0M894.9 654.9h0M1221.7 410h0M1036 419h0M1038.9 419h0M1043.7 419h0M1046.2 419h0M1066.2 419h0M1034.1 430.2h0M1114.5 423.1h0M1105.3 430.2h0M1035.4 438.5h0M1034.1 439.8h0M1156.8 432.5h0M1224 423.1h0M1269.4 425h0M1189.9 441.7h0M1213.6 445h0M1232.3 446h0M1171.3 451.8h0M1172.6 456.2h0M1173.6 464.5h0M1271.3 468.3h0M1080.6 483.1h0M1102.4 492.4h0M1105.3 491.2h0M1104.3 496.6h0M1108.5 501.6h0M1007.5 503.7h0M1292.9 483.1h0M1255 501.6h0M1193.2 518.1h0M1193.2 525.5h0M1248.6 517.4h0M1275.2 519.3h0M1278.4 518.1h0M1293.4 518.1h0M1295.4 518.1h0M1256.9 528.3h0M1100.1 521.2h0M1104.3 520.1h0M1113.9 528.3h0M1123.9 530.6h0M1123 535.6h0M1098.1 537.4h0M1098.1 539.9h0M1134.5 546h0M1127 557.2h0M1033.1 556.2h0M1062 558.2h0M1035.4 573.6h0M1100.1 571.6h0M1106.2 568.4h0M1112.6 568.4h0M1140.5 567.8h0M1155.9 574.5h0M1168.4 593.2h0M1215.5 553.9h0M1251.5 560.1h0M1282.7 559.1h0M1278.4 565.5h0M1301.1 547h0M1007.5 632.6h0M1013.9 630.3h0M1021.2 633.2h0M1025 636.7h0M1036.6 639.4h0M1039.5 638h0M1041.4 641.5h0M1045 638.6h0M1048.1 642.8h0M1053.7 645.7h0M1057.7 644.8h0M1060 643.8h0M1069.3 648h0M1077.4 646.7h0M1078.7 649.2h0M1089.9 649.9h0M1114.5 651.1h0M1119.7 652.1h0" fill="none" stroke="#95a92d" stroke-width="5.1" stroke-linecap="round"/>
<path d="M1133.2 653h0M1200.1 646.7h0M1188.6 654.4h0M1189.9 657.3h0M1192.4 655.9h0M1200.1 658.2h0M1205.3 659.6h0M1210.7 660.1h0M1228.4 661.1h0M1230.9 661.1h0M1252.8 662.5h0M1262.1 663.4h0M1265.9 665h0M1269.8 666.3h0M1299.6 668.4h0M1314.6 423.3h0M1307.3 467.2h0M1307.3 470.6h0M1400.3 436.7h0M1439.4 428.1h0M1441.3 426.2h0M1444.5 423.3h0M1455 430h0M1392.3 489.1h0M1394.6 489.1h0M1405.4 483h0M1420.7 478.8h0M1430.2 483h0M1427.6 492.3h0M1429.5 492.3h0M1445.7 489.1h0M1333.2 522.4h0M1333.2 525.3h0M1377.4 522.4h0M1376.1 525.3h0M1384.7 525.3h0M1391.7 525.3h0M1394.6 525.3h0M1380.7 532.5h0M1452.7 525.9h0M1452.7 528.5h0M1318.8 540h0M1311.7 546.8h0M1316.5 546.8h0M1321.2 546.8h0M1324.1 546.8h0M1327.5 546.8h0M1309.4 552h0M1375.5 572.5h0M1380.9 572h0M1423.2 570.6h0M1427 572h0M1439.4 570.6h0M1462.2 597.3h0M1465.5 595.4h0M1461.3 608.7h0M1461.3 646.9h0M742 699.8h0M749.7 705.6h0M812.2 758.5h0M877.6 795.6h0M900.7 816.2h0M876.3 795.1h0M879 796h0M766.6 700.2h0M768.5 700.2h0M791.4 709.8h0M817 709.8h0M818.9 709.8h0M828.2 710.8h0M785.6 718.1h0M769.3 721.6h0M798.2 732.5h0M818 732.5h0M832.4 737.7h0M826.1 743.7h0M838.8 739.7h0M840.7 739.7h0M848.8 739.7h0M867 739.7h0M869.3 739.7h0M870.3 729.3h0M841.4 758.5h0M871.3 782.9h0M894 705.6h0M898.8 709.4h0M911.7 720.4h0M921.9 726.4h0M894 729.6h0M955 700.4h0M955 709.1h0M949.8 711h0M937.3 791.2h0M917.6 824.3h0M929 831.2h0M938.2 832.6h0M980.6 861.5h0M985 739.7h0M1014.4 899h0M1025.8 899.4h0M1022.9 708.9h0M1016.7 718.1h0M1016.7 731.6h0M1016.7 740.8h0M1030.2 731.6h0M1032.5 731.6h0M1063.3 722.3h0M1065.4 722.3h0M1040.4 758.1h0M1061 758.1h0M1064.9 758.1h0M1024.1 801.4h0M987.9 861.5h0M995.2 861.5h0M1002.3 861.5h0M985 798h0M1008.1 790.3h0M1010 790.3h0M1157.8 699.4h0M1160.1 702.7h0" fill="none" stroke="#95a92d" stroke-width="5.1" stroke-linecap="round"/>
<path d="M1163.9 709.8h0M1169.3 709.8h0M1272.3 708.9h0M1274.2 717.1h0M1300.2 670h0M1162 734.5h0M1169.3 732.5h0M1137.4 742.7h0M1166.3 746h0M1224.9 729.3h0M1228 742.7h0M1216.9 753.1h0M1226.1 754.1h0M1207.8 761.4h0M1209.7 761.4h0M1215.9 762.4h0M1216.9 771.4h0M1154.7 768.5h0M1101.2 791.2h0M1111.4 794.5h0M1137.4 788h0M1166.3 792.2h0M1187.4 786h0M1189.3 786h0M1228 788h0M1229.9 788h0M1224.9 816.2h0M1215.5 819.1h0M1206.3 825.3h0M1227.1 837.8h0M1217.8 839.7h0M1257.7 832.6h0M1259.6 832.6h0M1257.8 846.6h0M1303.1 836.4h0M1102.4 846.6h0M1126 848.9h0M1141.4 844.7h0M1126 858.2h0M1152.8 860.1h0M1194.2 901.5h0M1223 899.4h0M1268.2 926.3h0M1307.9 671.5h0M1313.6 673.4h0M1322.2 674.8h0M1329.2 675.7h0M1332.3 672.9h0M1368.9 679h0M1370.8 677.2h0M1374.6 678h0M1390.8 679.9h0M1398 681.1h0M1423.7 682h0M1429.3 683.3h0M1432.3 684.3h0M1438.8 685.2h0M1441.7 686.6h0M1329.2 707.7h0M1323.1 718.2h0M1325 718.2h0M1392.1 701.4h0M1388.9 709.6h0M1436.1 708.7h0M1337.4 736.7h0M1323.1 740.9h0M1325 740.9h0M1412.7 729.5h0M1405.4 735.7h0M1413.1 751.4h0M1415 751.4h0M1380.7 758.2h0M1460.3 758.2h0M1406 766.6h0M1407.5 769.1h0M1408.5 772.9h0M1396.5 790.4h0M1398.4 790.4h0M1375.5 790.4h0M1433.3 791.4h0M1375.5 818.1h0M1382.2 817.1h0M1384.1 818.2h0M1381.6 828.5h0M1373.2 830.6h0M1425.1 821.5h0M1419.7 826.6h0M1327.9 834.4h0M1340.3 843.8h0M1392.7 840.9h0M1394.6 840.9h0M1425.1 852.4h0M1460.3 912.9h0M1367.3 927.6h0M1014.1 900h0M1155.9 956.3h0M1193.7 901.9h0M1222.9 900h0M1198.6 935.5h0M1200.1 938.8h0M1198.2 944.3h0M1198.2 948h0M1211.6 948h0M1268.1 926.2h0M1296.3 946h0M1249.5 953h0M1260.3 950.1h0M1268.1 953h0M1253 963.5h0M1270.4 974.8h0M1270.4 977.7h0M1271.8 980.6h0M1240.3 991.3h0M1263.3 1010.1h0M1275.9 1012h0M1249.7 1016.1h0M1252 1019h0M1098.6 935.9h0M1107.3 943.1h0M1128.7 957.3h0" fill="none" stroke="#95a92d" stroke-width="5.1" stroke-linecap="round"/>
<path d="M1134.1 959.2h0M1147.7 967.4h0M1180.1 995.1h0M1183.4 996.3h0M1186.9 997.5h0M1213.5 1008.7h0M1212.6 1016.5h0M1023.8 902.3h0M1026.7 904.9h0M1074.3 935h0M1077.8 935.3h0M1307.5 967.5h0M1333.3 990.3h0M1310.4 1026.2h0M1314.7 1025.2h0M1367.3 927.6h0M1388 932.6h0M1390 932.6h0M1369.2 951h0M1378.3 951h0M1380.3 951h0M1434.2 950.1h0M1450.7 952h0M1460.2 913h0M1461.2 938.8h0M1406.1 970.3h0M1407.5 972.8h0M1418.7 966.6h0M1416.8 971.8h0M1410.9 985h0M1412.9 985h0M1364.2 984h0M1366.1 984h0M1376.4 990.3h0M1365.1 994.5h0M1383.8 1013h0M1368.2 1025.6h0M1464.3 984h0M1455 1014.9h0M1456 1017.8h0M1453.5 1019.4h0M1432.7 1044h0M1434.6 1044h0M1437.2 1059.5h0M1376 1059.5h0M1378 1059.5h0M1367.3 1065.6h0M1312.7 1060.3h0M1332.3 1060.3h0M1403.6 1103.8h0M1408.4 1129.6h0M1416.8 1130.6h0M1314.3 1072.7h0M1318.2 1073.7h0M1372.5 1118.9h0M1393.9 1125.2h0M1464.7 1142.6h0" fill="none" stroke="#95a92d" stroke-width="5.1" stroke-linecap="round"/>
<circle cx="322.6" cy="19.6" r="4.8" fill="#a3a926"/>
<circle cx="322.6" cy="31.2" r="4.8" fill="#a3a926"/>
<circle cx="322.6" cy="42.7" r="4.3" fill="#9fa928"/>
<circle cx="467.9" cy="19.6" r="4.8" fill="#80a24c"/>
<circle cx="421.7" cy="31.6" r="4.6" fill="#8aa53f"/>
<circle cx="467.9" cy="32.1" r="4.3" fill="#a3a926"/>
<circle cx="472.7" cy="32.1" r="3.8" fill="#a3a926"/>
<circle cx="386.7" cy="130.3" r="3.3" fill="#9caa2a"/>
<circle cx="462.1" cy="130.3" r="3.3" fill="#9caa2a"/>
<circle cx="774.4" cy="19.2" r="4.3" fill="#85a346"/>
<circle cx="759.4" cy="18.7" r="3.5" fill="#9fa928"/>
<circle cx="759.4" cy="31.2" r="4.8" fill="#85a346"/>
<circle cx="874.1" cy="18.7" r="3.5" fill="#9caa2a"/>
<circle cx="907.7" cy="21.2" r="4.3" fill="#a6a824"/>
<circle cx="920.2" cy="19.6" r="3.3" fill="#8fa739"/>
<circle cx="988.6" cy="20" r="3.8" fill="#9fa928"/>
<circle cx="982.8" cy="20" r="3.5" fill="#9fa928"/>
<circle cx="994.3" cy="20" r="3.5" fill="#9fa928"/>
<circle cx="1070.3" cy="19.2" r="4.3" fill="#80a24c"/>
<circle cx="1129" cy="18.7" r="3.5" fill="#9caa2a"/>
<circle cx="920.2" cy="32.1" r="3.8" fill="#a3a926"/>
<circle cx="951.6" cy="25.8" r="3.3" fill="#9caa2a"/>
<circle cx="1070.3" cy="32.1" r="4.3" fill="#ada720"/>
<circle cx="1214.5" cy="18.9" r="5.0" fill="#ada720"/>
<circle cx="1419.9" cy="19.9" r="4.0" fill="#85a346"/>
<circle cx="1271.4" cy="30.8" r="3.5" fill="#9caa2a"/>
<circle cx="1322" cy="32.2" r="4.0" fill="#85a346"/>
<circle cx="1421.4" cy="130.5" r="5.0" fill="#a6a824"/>
<circle cx="459.2" cy="176.6" r="4.3" fill="#8fa739"/>
<circle cx="322.6" cy="266.4" r="3.8" fill="#85a346"/>
<circle cx="400.5" cy="267.8" r="2.9" fill="#9caa2a"/>
<circle cx="444.2" cy="267.4" r="2.9" fill="#9caa2a"/>
<circle cx="472.3" cy="268.3" r="3.7" fill="#8aa53f"/>
<circle cx="424.9" cy="366.5" r="3.4" fill="#9caa2a"/>
<circle cx="781.5" cy="245.2" r="2.9" fill="#9caa2a"/>
<circle cx="748.4" cy="252.9" r="3.4" fill="#9fa928"/>
<circle cx="760" cy="324.1" r="3.3" fill="#9caa2a"/>
<circle cx="798.1" cy="209.6" r="3.3" fill="#9caa2a"/>
<circle cx="1075.1" cy="185" r="3.3" fill="#9caa2a"/>
<circle cx="1132.3" cy="251" r="3.3" fill="#9caa2a"/>
<circle cx="1011.3" cy="389.6" r="2.9" fill="#9caa2a"/>
<circle cx="1032.2" cy="389.6" r="2.9" fill="#9caa2a"/>
<circle cx="1412.5" cy="185.1" r="6.4" fill="#b4a61c"/>
<circle cx="1224.8" cy="185.1" r="4.8" fill="#aaa822"/>
<circle cx="1149" cy="176.8" r="4.0" fill="#9fa928"/>
<circle cx="1271.4" cy="268.5" r="3.5" fill="#9caa2a"/>
<circle cx="1390.1" cy="366.3" r="3.5" fill="#9fa928"/>
<circle cx="471.4" cy="469.3" r="3.4" fill="#9caa2a"/>
<circle cx="479.7" cy="423.9" r="2.9" fill="#9caa2a"/>
<circle cx="527.2" cy="424.4" r="2.9" fill="#9caa2a"/>
<circle cx="626.5" cy="596.6" r="2.9" fill="#9caa2a"/>
<circle cx="748.1" cy="596.6" r="4.0" fill="#9caa2a"/>
<circle cx="764.1" cy="424.8" r="2.9" fill="#9caa2a"/>
<circle cx="919.6" cy="424.8" r="2.9" fill="#9caa2a"/>
<circle cx="942.1" cy="554.3" r="3.5" fill="#9caa2a"/>
<circle cx="1010.6" cy="424.8" r="2.9" fill="#9caa2a"/>
<circle cx="1031.2" cy="424.8" r="2.9" fill="#9caa2a"/>
<circle cx="1070.6" cy="424.8" r="2.9" fill="#9caa2a"/>
<circle cx="1201.1" cy="424.8" r="2.9" fill="#9caa2a"/>
<circle cx="1214.6" cy="423.1" r="4.3" fill="#80a24c"/>
<circle cx="1012.5" cy="484.5" r="3.7" fill="#85a346"/>
<circle cx="1214.6" cy="479.8" r="3.7" fill="#85a346"/>
<circle cx="1224.9" cy="553.9" r="4.8" fill="#7ca053"/>
<circle cx="1087.9" cy="493.7" r="2.9" fill="#9caa2a"/>
<circle cx="1115.8" cy="493.7" r="2.9" fill="#9caa2a"/>
<circle cx="1110.5" cy="526.4" r="3.1" fill="#9caa2a"/>
<circle cx="1304" cy="487.9" r="3.1" fill="#9caa2a"/>
<circle cx="1018.7" cy="634.7" r="3.1" fill="#9caa2a"/>
<circle cx="1284.2" cy="667.3" r="2.9" fill="#9caa2a"/>
<circle cx="1412.7" cy="554.2" r="6.7" fill="#6d9b66"/>
<circle cx="1325.4" cy="424.7" r="2.9" fill="#9caa2a"/>
<circle cx="1379.3" cy="568.2" r="2.9" fill="#9caa2a"/>
<circle cx="773.3" cy="727.3" r="3.8" fill="#85a346"/>
<circle cx="908.4" cy="823.9" r="3.8" fill="#85a346"/>
<circle cx="810.7" cy="730.6" r="3.4" fill="#9caa2a"/>
<circle cx="1214.6" cy="705" r="3.4" fill="#9caa2a"/>
<circle cx="1206.3" cy="738.7" r="3.7" fill="#85a346"/>
<circle cx="1275.6" cy="715.6" r="3.1" fill="#9caa2a"/>
<circle cx="1256.3" cy="795.1" r="3.1" fill="#9caa2a"/>
<circle cx="1395.9" cy="783" r="3.0" fill="#8fa739"/>
<circle cx="1095.7" cy="935.3" r="3.5" fill="#9caa2a"/>
<circle cx="1223.8" cy="976.3" r="2.9" fill="#9caa2a"/>
<circle cx="1444.3" cy="1025.2" r="3.4" fill="#8aa53f"/>
<circle cx="1465.3" cy="1148.4" r="2.9" fill="#9caa2a"/>
</g>
<text transform="translate(820,1288) scale(0.972,1)" font-size="55" text-anchor="middle">Number of columns/reactions</text>
<text transform="translate(832,1353.5) scale(0.972,1)" font-size="55" text-anchor="middle">(5319 nonzero elements)</text>
<text transform="translate(41,595.6) rotate(-90) scale(0.972,1)" font-size="55" text-anchor="middle">Number of rows/metabolites</text>
</svg>
</body></html>
